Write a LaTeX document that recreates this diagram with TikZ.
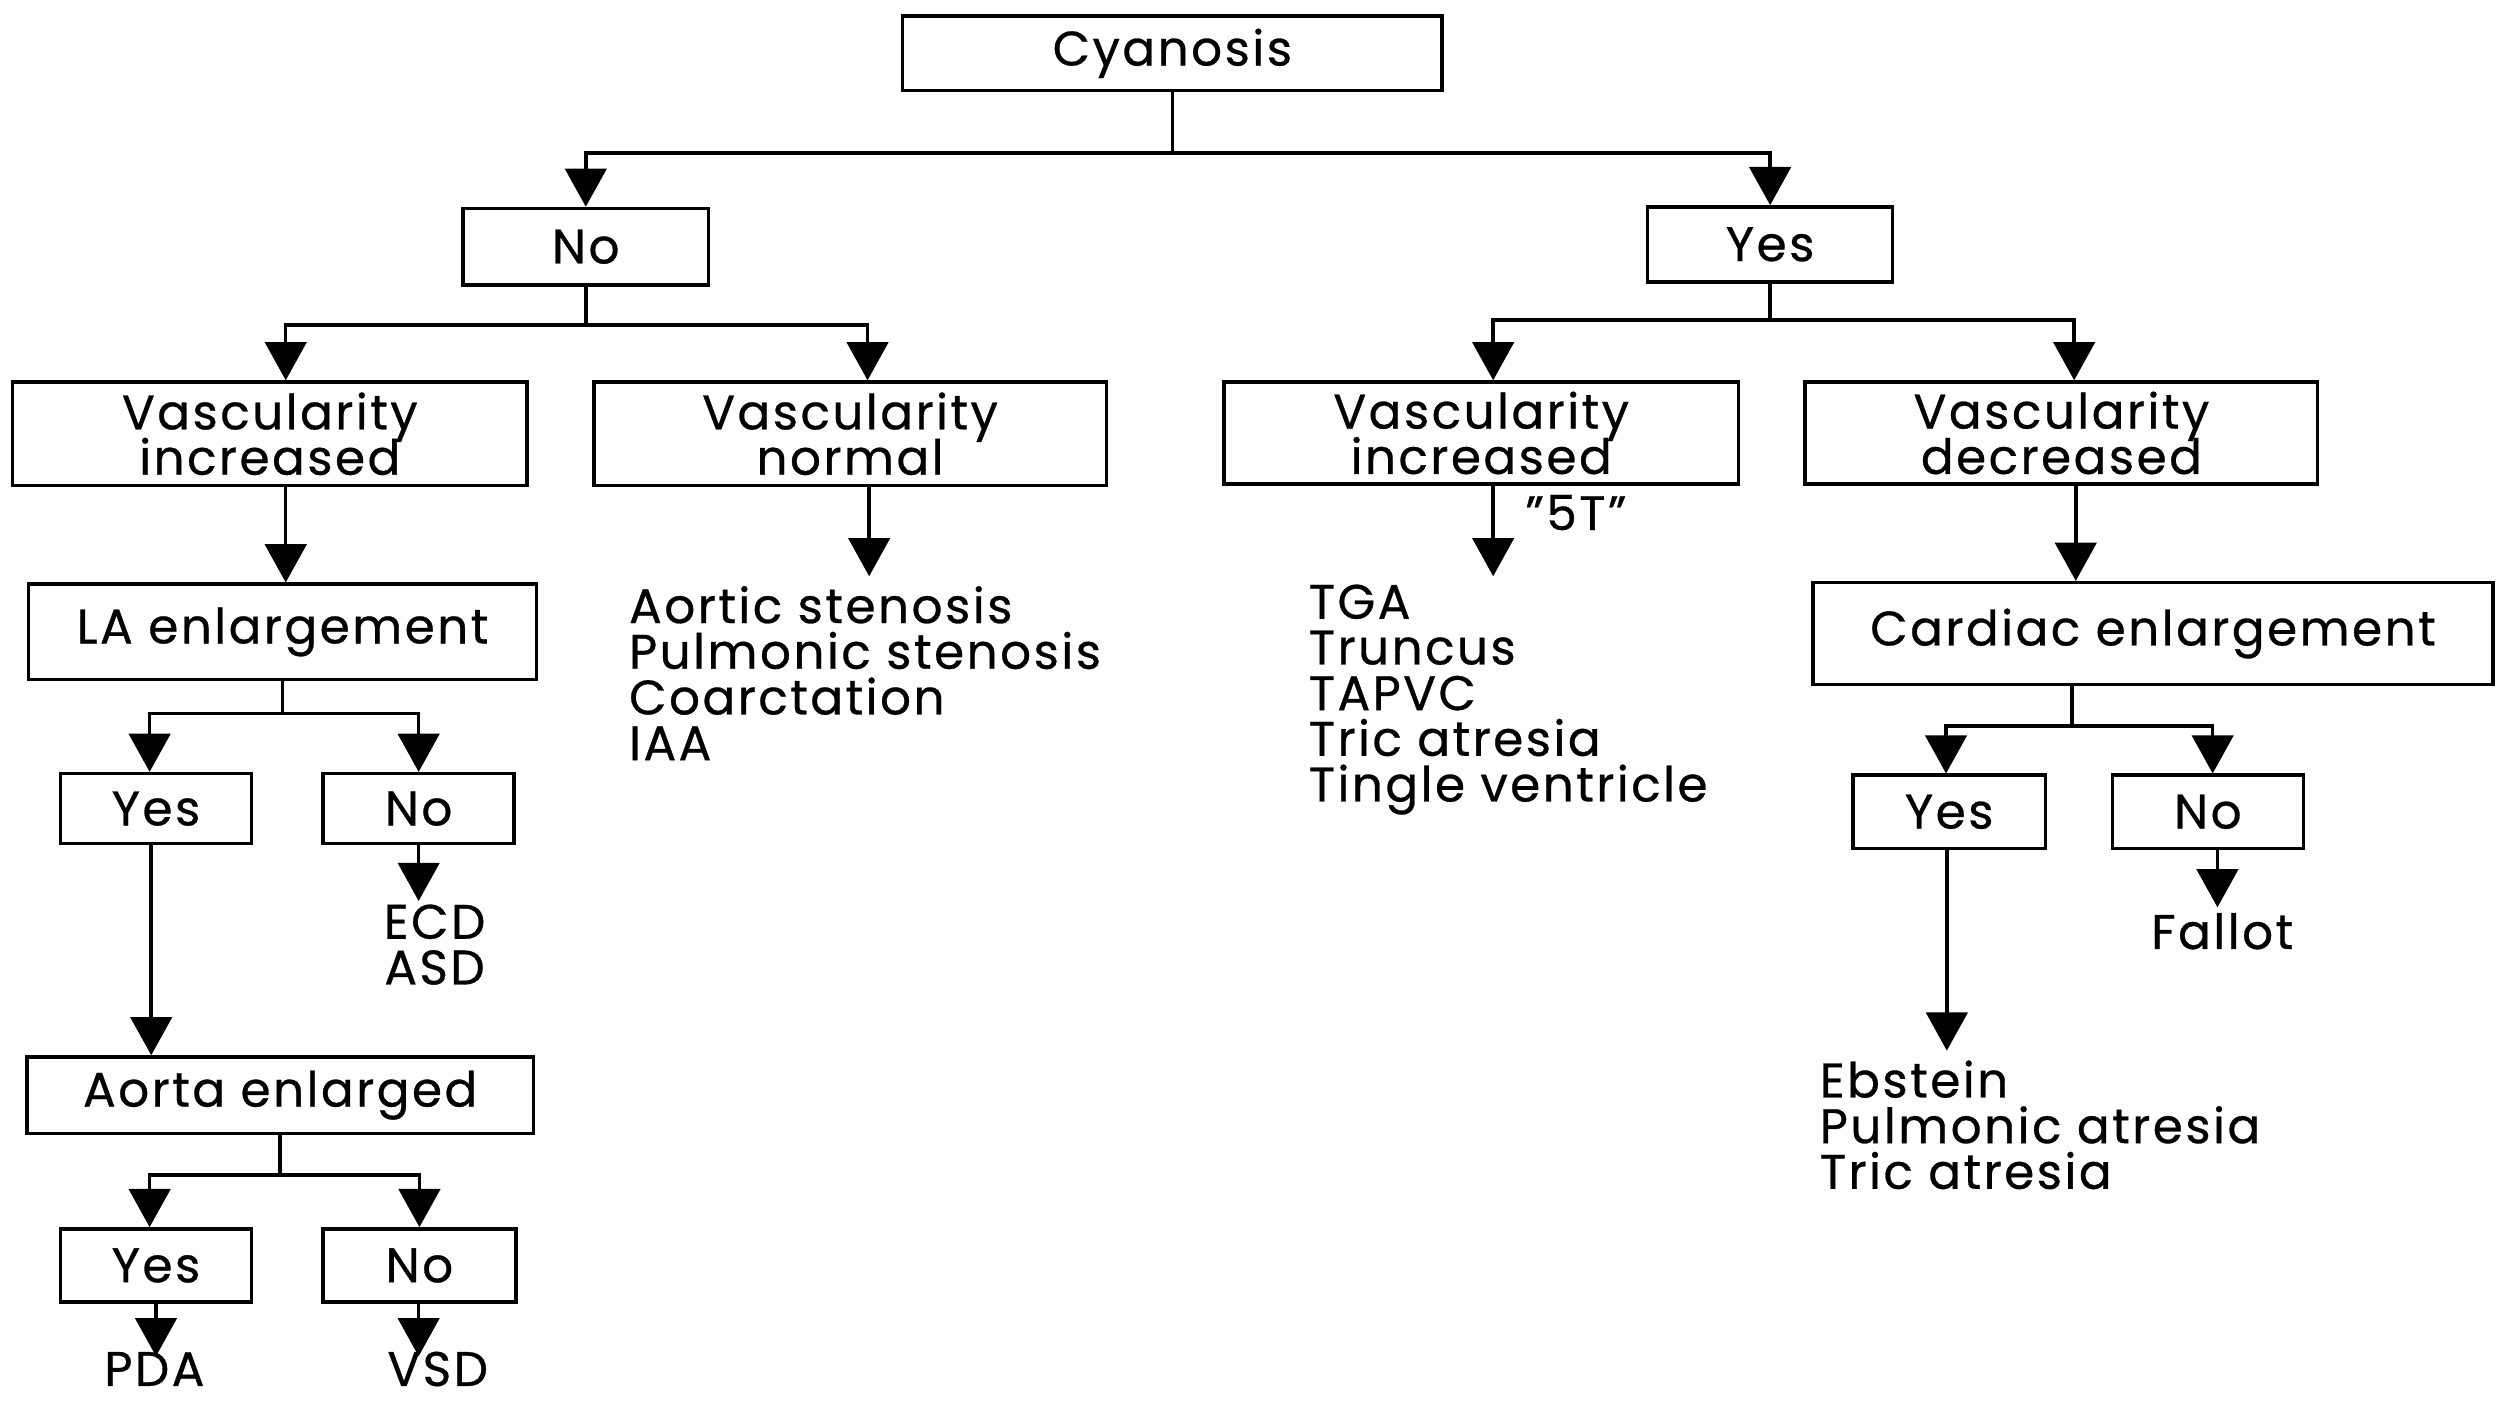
\documentclass[tikz,border=0pt]{standalone}
\usepackage{fontspec}
\setmainfont[LetterSpace=5,FakeBold=0.6]{Poppins}
\usetikzlibrary{arrows.meta}
\newcommand\dgfont{\fontsize{30.5}{28.5}\selectfont\lineskiplimit=-100pt}
\newcommand\lsfont{\fontsize{30.5}{28.7}\selectfont\lineskiplimit=-100pt}
\begin{document}
\begin{tikzpicture}[x=1pt,y=-1pt,
  box/.style={draw,line width=2.2pt,inner sep=0pt,align=center,font=\dgfont},
  txt/.style={inner sep=0pt,font=\lsfont},
  arr/.style={line width=2.2pt,-{Triangle[length=24pt,width=26pt]}}]
\useasboundingbox (0,0) rectangle (1568,882);
% boxes
\node[box,minimum width=339pt,minimum height=47pt] (cy) at (736.5,33.5) {Cyanosis};
\node[box,minimum width=154pt,minimum height=48pt] (no) at (368,155) {No};
\node[box,minimum width=154pt,minimum height=47pt] (yes) at (1112,153.5) {Yes};
\node[box,minimum width=323pt,minimum height=65pt] (vi) at (169.5,272.5) {Vascularity\\increased};
\node[box,minimum width=322pt,minimum height=65pt] (vn) at (534,272.5) {Vascularity\\normal};
\node[box,minimum width=323pt,minimum height=64pt] (vi2) at (930.5,272) {Vascularity\\increased};
\node[box,minimum width=322pt,minimum height=64pt] (vd) at (1295,272) {Vascularity\\decreased};
\node[box,minimum width=319pt,minimum height=60pt] (la) at (177.5,397) {LA enlargement};
\node[box,minimum width=427pt,minimum height=64pt] (ce) at (1352.5,398) {Cardiac enlargement};
\node[box,minimum width=120pt,minimum height=44pt] (lay) at (98,508) {Yes};
\node[box,minimum width=120pt,minimum height=44pt] (lan) at (263,508) {No};
\node[box,minimum width=318pt,minimum height=48pt] (ae) at (176,688) {Aorta enlarged};
\node[box,minimum width=120pt,minimum height=46pt] (aey) at (98,795) {Yes};
\node[box,minimum width=121pt,minimum height=46pt] (aen) at (263.5,795) {No};
\node[box,minimum width=121pt,minimum height=46pt] (cey) at (1224.5,510) {Yes};
\node[box,minimum width=120pt,minimum height=46pt] (cen) at (1387,510) {No};
% text lists
\node[txt,anchor=north west,align=left] (vnlist) at (395,368) {Aortic stenosis\\Pulmonic stenosis\\Coarctation\\IAA};
\node[txt,anchor=north west,align=left] (tlist) at (822,367) {TGA\\Truncus\\TAPVC\\Tric atresia\\Tingle ventricle};
\node[txt,anchor=north west,align=left] (elist) at (1143,666) {Ebstein\\Pulmonic atresia\\Tric atresia};
\node[txt,anchor=north,align=center] (ecd) at (273,568) {ECD\\ASD};
\node[txt] (fallot) at (1396,585) {Fallot};
\node[txt] (pda) at (97,860) {PDA};
\node[txt] (vsd) at (275,860) {VSD};
\node[txt] (fivet) at (990,322) {\symbol{34}5T\symbol{34}};
% free ends
\coordinate (vnend) at (546,362);
\coordinate (vi2end) at (938,362);
\coordinate (lanend) at (263,566);
\coordinate (aeyend) at (98,852);
\coordinate (aenend) at (263,852);
\coordinate (ceyend) at (1223,660);
\coordinate (cenend) at (1393,570);
% connectors
\draw[arr] (cy.south) -- ++(0,38) -| (no.north);
\draw[arr] (cy.south) -- ++(0,38) -| (yes.north);
\draw[arr] (no.south) -- ++(0,24) -| ([xshift=10pt]vi.north);
\draw[arr] (no.south) -- ++(0,24) -| ([xshift=11pt]vn.north);
\draw[arr] (yes.south) -- ++(0,23) -| ([xshift=7.5pt]vi2.north);
\draw[arr] (yes.south) -- ++(0,23) -| ([xshift=8pt]vd.north);
\draw[arr] ([xshift=10pt]vi.south) -- ([xshift=10pt]vi.south |- la.north);
\draw[arr] (vn.south -| vnend) -- (vnend);
\draw[arr] (vi2.south -| vi2end) -- (vi2end);
\draw[arr] ([xshift=9pt]vd.south) -- ([xshift=9pt]vd.south |- ce.north);
\draw[arr] (la.south) -- ++(0,20) -| ([xshift=-4pt]lay.north);
\draw[arr] (la.south) -- ++(0,20) -| (lan.north);
\draw[arr] (lan.south -| lanend) -- (lanend);
\draw[arr] ([xshift=-3pt]lay.south) -- ([xshift=-3pt]lay.south |- ae.north);
\draw[arr] (ae.south) -- ++(0,25) -| ([xshift=-4pt]aey.north);
\draw[arr] (ae.south) -- ++(0,25) -| (aen.north);
\draw[arr] (aey.south -| aeyend) -- (aeyend);
\draw[arr] (aen.south -| aenend) -- (aenend);
\draw[arr] ([xshift=-51pt]ce.south) -- ++(0,25) -| ([xshift=-2pt]cey.north);
\draw[arr] ([xshift=-51pt]ce.south) -- ++(0,25) -| ([xshift=3pt]cen.north);
\draw[arr] (cey.south -| ceyend) -- (ceyend);
\draw[arr] (cen.south -| cenend) -- (cenend);
\end{tikzpicture}
\end{document}
